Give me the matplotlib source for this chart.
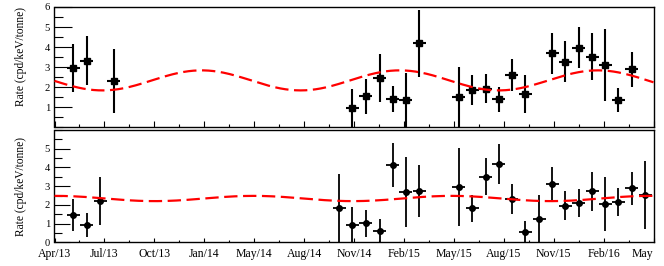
"""
Event rate vs time, two panels (upper / lower), with annual-modulation fit curves.
Output: out.png
"""
import datetime as dt

import numpy as np
import matplotlib
matplotlib.use("Agg")
import matplotlib.pyplot as plt
import matplotlib.dates as mdates
from matplotlib.ticker import FixedLocator, MultipleLocator

plt.rcParams["font.family"] = ["Liberation Serif", "DejaVu Serif"]

# ---- time axis --------------------------------------------------------------
AXIS_START     = "2013-04-29"
TICK_STEP_DAYS = 92
N_TICKS        = 13
BIN_HALF_DAYS  = 12

# ---- upper panel ------------------------------------------------------------
TOP_DATES = ["2013-06-03", "2013-06-27", "2013-08-16",
             "2014-10-30", "2014-11-24", "2014-12-19", "2015-01-12", "2015-02-05",
             "2015-03-02", "2015-05-14", "2015-06-08", "2015-07-03", "2015-07-27",
             "2015-08-20", "2015-09-14", "2015-11-02", "2015-11-26", "2015-12-21",
             "2016-01-15", "2016-02-08", "2016-03-03", "2016-03-28"]
TOP_RATE = [2.94, 3.31, 2.29,
            0.95, 1.55, 2.45, 1.40, 1.37,
            4.18, 1.50, 1.85, 1.92, 1.40,
            2.59, 1.67, 3.69, 3.26, 3.98,
            3.53, 3.12, 1.37, 2.89]
TOP_ERR = [1.20, 1.22, 1.60,
           0.96, 0.88, 1.20, 0.66, 1.36,
           1.68, 1.50, 0.75, 0.73, 0.62,
           0.80, 0.96, 1.03, 1.02, 1.01,
           1.17, 1.79, 0.60, 0.88]
TOP_FIT = {"mean": 2.34, "amp": 0.50, "peak": "2014-01-25"}

# ---- lower panel ------------------------------------------------------------
BOT_DATES = ["2013-06-03", "2013-06-27", "2013-07-22",
             "2014-10-06", "2014-10-30", "2014-11-24", "2014-12-19", "2015-01-12",
             "2015-02-05", "2015-03-02", "2015-05-14", "2015-06-08", "2015-07-03",
             "2015-07-27", "2015-08-20", "2015-09-14", "2015-10-09", "2015-11-02",
             "2015-11-26", "2015-12-21", "2016-01-15", "2016-02-08", "2016-03-03",
             "2016-03-28", "2016-04-22"]
BOT_RATE = [1.45, 0.93, 2.20,
            1.82, 0.93, 1.02, 0.61, 4.14,
            2.68, 2.75, 2.95, 1.82, 3.51,
            4.18, 2.32, 0.54, 1.25, 3.11,
            1.96, 2.09, 2.73, 2.05, 2.16,
            2.89, 2.53]
BOT_ERR = [0.84, 0.65, 1.27,
           1.85, 0.95, 0.72, 0.65, 1.17,
           1.88, 1.39, 2.08, 0.73, 0.99,
           1.09, 0.79, 0.58, 1.27, 0.91,
           0.79, 0.74, 1.04, 1.45, 0.76,
           0.88, 1.80]
BOT_FIT = {"mean": 2.34, "amp": 0.14, "peak": "2014-05-01"}

YLABEL = "Rate (cpd/keV/tonne)"

W, H = 664, 266


def to_num(dates):
    return mdates.date2num([dt.datetime.fromisoformat(d) for d in dates])


def fit_curve(ax, fit, x0, x1):
    t = np.linspace(x0, x1, 600)
    peak = to_num([fit["peak"]])[0]
    y = fit["mean"] + fit["amp"] * np.cos(2 * np.pi * (t - peak) / 365.25)
    ax.plot(t, y, color="#ff0000", linewidth=1.6, dashes=(6, 2.5), zorder=5)


def draw_panel(ax, dates, rate, err, fit, marker, ms, elw):
    x = to_num(dates)
    ax.errorbar(x, rate, yerr=err, xerr=BIN_HALF_DAYS, fmt=marker, ms=ms,
                color="black", ecolor="black", elinewidth=elw, capsize=0, zorder=3)
    x0 = to_num([AXIS_START])[0]
    x1 = x0 + TICK_STEP_DAYS * (N_TICKS - 1)
    fit_curve(ax, fit, x0, x1)
    ax.set_xlim(x0, x1)
    ax.set_ylim(0, 6)
    major = [x0 + i * TICK_STEP_DAYS for i in range(N_TICKS)]
    minor = [m + TICK_STEP_DAYS / 2 for m in major[:-1]]
    ax.xaxis.set_major_locator(FixedLocator(major))
    ax.xaxis.set_minor_locator(FixedLocator(minor))
    ax.yaxis.set_minor_locator(MultipleLocator(0.5))
    for s in ax.spines.values():
        s.set_linewidth(1.0)
    ax.tick_params(axis="both", which="both", direction="in", top=False,
                   right=False, width=0.8, colors="black")
    return major


def date_label(v, pos):
    # the last label sits on the right edge, only the month fits there
    d = mdates.num2date(v)
    return d.strftime("%b") if pos == N_TICKS - 1 else d.strftime("%b/%y")


fig = plt.figure(figsize=(W / 100, H / 100), dpi=100)
ax_top = fig.add_axes([54.5 / W, 1 - 127.3 / H, 599 / W, 120.3 / H])
ax_bot = fig.add_axes([54.5 / W, 1 - 242.3 / H, 599 / W, 112.3 / H])

draw_panel(ax_top, TOP_DATES, TOP_RATE, TOP_ERR, TOP_FIT, "s", 4.5, 1.5)
draw_panel(ax_bot, BOT_DATES, BOT_RATE, BOT_ERR, BOT_FIT, "o", 4.0, 1.3)

# upper panel: no date labels, long y ticks
ax_top.set_yticks([1, 2, 3, 4, 5, 6])
ax_top.tick_params(axis="x", which="major", length=4.2, labelbottom=False)
ax_top.tick_params(axis="x", which="minor", length=2.2)
ax_top.tick_params(axis="y", which="major", length=13, labelsize=7.6, pad=3.3)
ax_top.tick_params(axis="y", which="minor", length=6.5)
ax_top.set_ylabel(YLABEL, fontsize=8.3, loc="top")
ax_top.yaxis.set_label_coords(-0.046, 1.0)

# lower panel: date labels
ax_bot.set_yticks([0, 1, 2, 3, 4, 5])
ax_bot.xaxis.set_major_formatter(plt.FuncFormatter(date_label))
ax_bot.tick_params(axis="x", which="major", length=3.2, labelsize=8.5, pad=4)
ax_bot.tick_params(axis="x", which="minor", length=1.6)
ax_bot.tick_params(axis="y", which="major", length=11.5, labelsize=7.6, pad=3.3)
ax_bot.tick_params(axis="y", which="minor", length=5.8)
ax_bot.set_ylabel(YLABEL, fontsize=8.3)
ax_bot.yaxis.set_label_coords(-0.046, 0.5)

fig.canvas.draw()
ax_bot.get_xticklabels()[-1].set_horizontalalignment("right")

fig.savefig("out.png", dpi=100)
plt.close(fig)
print("Saved out.png")
